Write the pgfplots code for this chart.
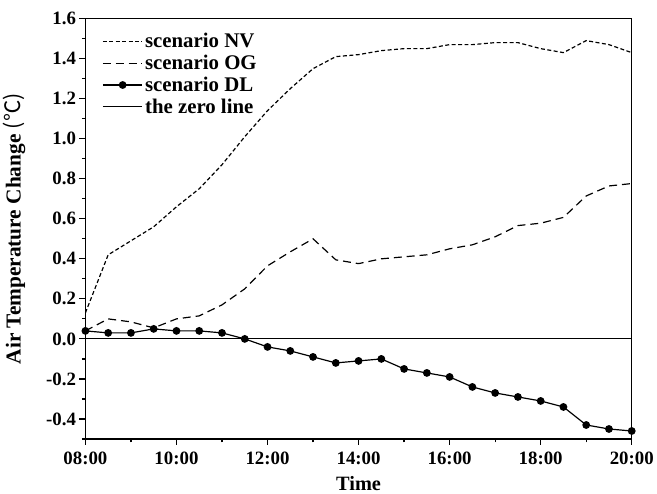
\documentclass[border=0pt]{standalone}
\usepackage{fontspec}
\setmainfont{Liberation Serif}
\newfontfamily\cjk{Noto Sans CJK SC}
\usepackage{pgfplots}
\pgfplotsset{compat=1.18}

\begin{document}
\begin{tikzpicture}[font=\fontsize{19}{22}\selectfont\bfseries]
\begin{axis}[
  scale only axis,
  width=551pt, height=424pt,
  xmin=8, xmax=20,
  ymin=-0.5, ymax=1.6,
  xtick={8,10,...,20},
  xticklabels={08:00,10:00,12:00,14:00,16:00,18:00,20:00},
  minor xtick={9,11,...,19},
  ytick={-0.4,-0.2,...,1.61},
  minor ytick={-0.5,-0.3,...,1.55},
  tick align=outside,
  xtick pos=left, ytick pos=left,
  major tick length=6pt, minor tick length=3.5pt,
  every tick/.style={black, line width=1.2pt},
  axis line style={line width=1.3pt},
  yticklabel style={/pgf/number format/fixed,/pgf/number format/zerofill,/pgf/number format/precision=1},
  /pgf/number format/assume math mode=true,
  ticklabel style={font=\fontsize{19}{22}\selectfont\bfseries},
  xticklabel style={yshift=-4pt},
  xlabel={Time},
  ylabel={Air Temperature Change {\cjk\mdseries (℃)}},
  xlabel style={yshift=-4pt, font=\fontsize{20.5}{23}\selectfont\bfseries},
  ylabel style={yshift=14pt, font=\fontsize{21.5}{24}\selectfont\bfseries},
  legend style={draw=none, fill=none, at={(0.025,0.975)}, anchor=north west,
    font=\fontsize{21}{24}\selectfont\bfseries, row sep=2pt,
    legend cell align=left},
  legend image code/.code={\draw[mark repeat=2,mark phase=2,#1] plot coordinates {(0pt,0pt) (20pt,0pt) (40pt,0pt)};},
  every axis plot/.append style={line width=1.2pt, black},
]
\addplot[dash pattern=on 4pt off 2.5pt] coordinates {
(8,0.13) (8.5,0.42) (9,0.49) (9.5,0.56) (10,0.66) (10.5,0.75) (11,0.87) (11.5,1.01)
(12,1.14) (12.5,1.25) (13,1.35) (13.5,1.41) (14,1.42) (14.5,1.44) (15,1.45) (15.5,1.45)
(16,1.47) (16.5,1.47) (17,1.48) (17.5,1.48) (18,1.45) (18.5,1.43) (19,1.49) (19.5,1.47) (20,1.43)};
\addlegendentry{scenario NV}
\addplot[dash pattern=on 8pt off 5pt] coordinates {
(8,0.04) (8.5,0.10) (9,0.085) (9.5,0.055) (10,0.10) (10.5,0.115) (11,0.17) (11.5,0.25)
(12,0.365) (12.5,0.435) (13,0.50) (13.5,0.395) (14,0.376) (14.5,0.40) (15,0.41) (15.5,0.42)
(16,0.45) (16.5,0.47) (17,0.51) (17.5,0.566) (18,0.578) (18.5,0.607) (19,0.714) (19.5,0.764) (20,0.776)};
\addlegendentry{scenario OG}
\addplot[solid, mark=*, mark size=3.3pt] coordinates {
(8,0.04) (8.5,0.03) (9,0.03) (9.5,0.05) (10,0.04) (10.5,0.04) (11,0.03) (11.5,0.00)
(12,-0.04) (12.5,-0.06) (13,-0.09) (13.5,-0.12) (14,-0.11) (14.5,-0.10) (15,-0.15) (15.5,-0.17)
(16,-0.19) (16.5,-0.24) (17,-0.27) (17.5,-0.29) (18,-0.31) (18.5,-0.34) (19,-0.43) (19.5,-0.45) (20,-0.46)};
\addlegendentry{scenario DL}
\addplot[solid] coordinates {(8,0) (20,0)};
\addlegendentry{the zero line}
\end{axis}
\path ([yshift=9pt]current axis.outer north west);
\end{tikzpicture}
\end{document}
